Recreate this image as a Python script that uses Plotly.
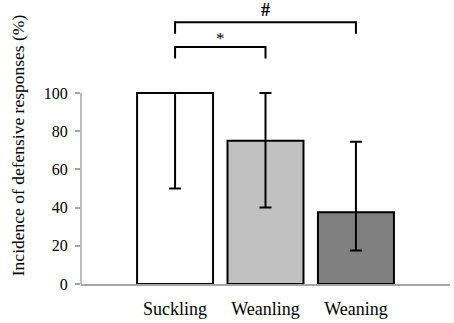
import plotly.graph_objects as go

categories = ["Suckling", "Weanling", "Weaning"]
values = [100, 75, 37.5]
err_plus = [0, 25, 37]
err_minus = [50, 35, 20]
colors = ["#ffffff", "#c0c0c0", "#808080"]
y_ticks = [0, 20, 40, 60, 80, 100]

# significance brackets: (from, to, low, high, label_y, label, bold)
brackets = [
    ("Suckling", "Weanling", 118, 124, 128.5, "*", False),
    ("Suckling", "Weaning", 131, 137, 143.5, "#", True),
]

FONT = "Liberation Serif"

fig = go.Figure()
fig.add_trace(go.Bar(
    x=categories, y=values, width=0.84,
    marker=dict(color=colors, line=dict(color="black", width=2)),
    error_y=dict(type="data", symmetric=False, array=err_plus, arrayminus=err_minus,
                 color="black", thickness=2, width=6),
    showlegend=False, hoverinfo="skip",
))

for a, b, lo, hi, ly, lab, bold in brackets:
    fig.add_trace(go.Scatter(
        x=[a, a, b, b], y=[lo, hi, hi, lo], mode="lines",
        line=dict(color="black", width=2), showlegend=False, hoverinfo="skip",
    ))
    ia, ib = categories.index(a), categories.index(b)
    fig.add_annotation(
        x=(ia + ib) / 2, y=ly, xref="x", yref="y",
        text=f"<b>{lab}</b>" if bold else lab, showarrow=False,
        font=dict(family=FONT, size=18 if bold else 17, color="black"),
    )

# y axis line only from 0 to 100
fig.add_shape(type="line", xref="paper", yref="y", x0=0, x1=0, y0=0, y1=max(y_ticks),
              line=dict(color="#a6a6a6", width=1.5))

fig.update_layout(
    width=454, height=323,
    margin=dict(l=81, r=4, t=7, b=35),
    plot_bgcolor="white", paper_bgcolor="white",
    font=dict(family=FONT, size=17, color="black"),
)
fig.update_xaxes(
    range=[-1.04, 3.04], showline=True, linecolor="#a6a6a6", linewidth=1.5,
    ticks="", showgrid=False, zeroline=False,
    tickfont=dict(family=FONT, size=18, color="black"), ticklabelstandoff=8,
)
fig.update_yaxes(
    range=[0, 145], tickvals=y_ticks, showline=False, showgrid=False, zeroline=False,
    ticks="outside", ticklen=5, tickcolor="#a6a6a6", tickwidth=1.5,
    tickfont=dict(family=FONT, size=16, color="black"), ticklabelstandoff=4,
    title=dict(text="Incidence of defensive responses (%)",
               font=dict(family=FONT, size=17.5, color="black"), standoff=14),
)

fig.write_html("out.html", config={"displayModeBar": False},
               post_script="document.body.style.margin='0';")
